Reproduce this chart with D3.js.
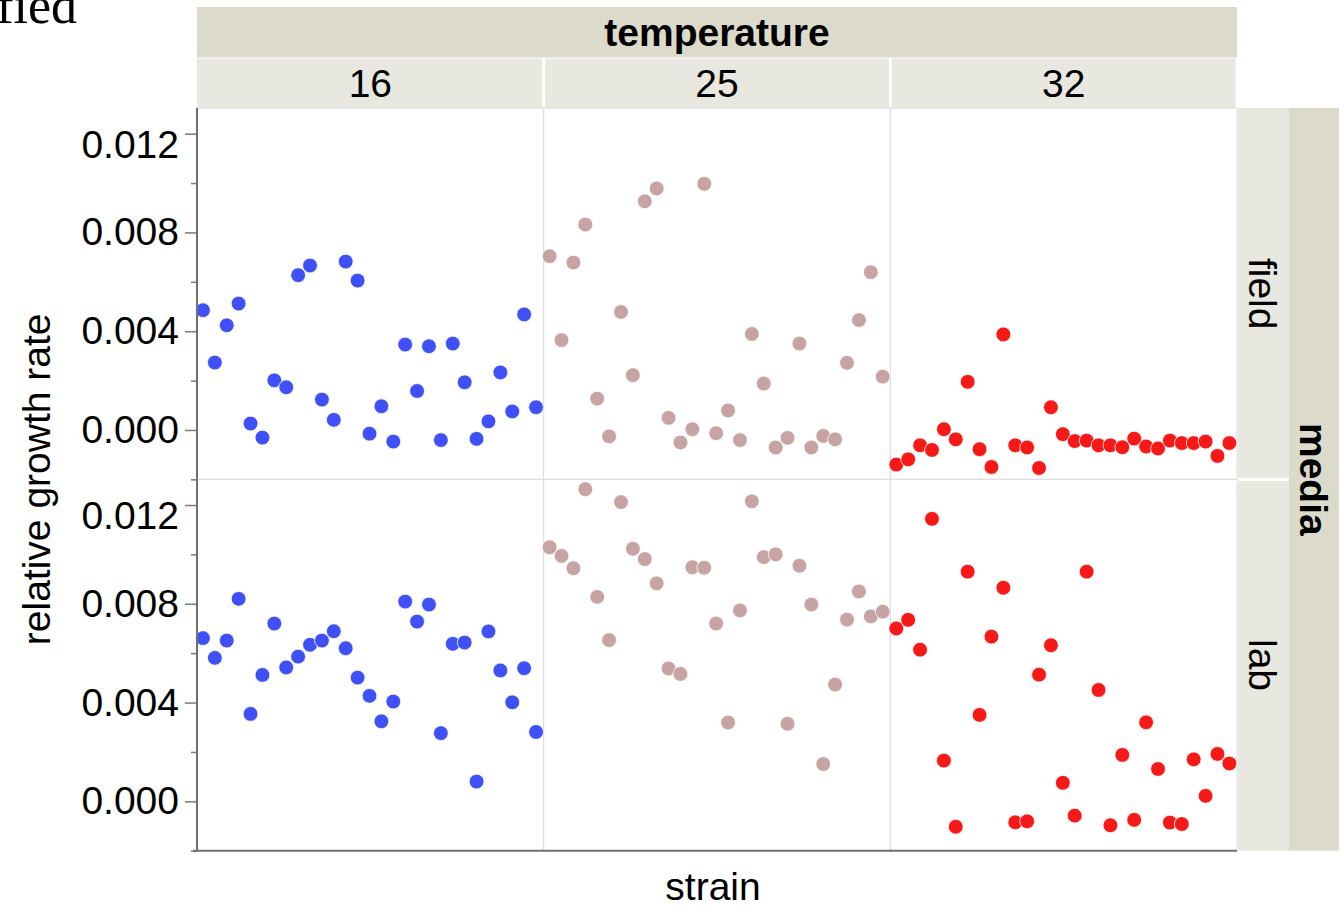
<!DOCTYPE html>
<html>
<head>
<meta charset="utf-8">
<script src="https://cdn.jsdelivr.net/npm/d3@7"></script>
<style>
  html, body { margin: 0; padding: 0; background: #ffffff; }
  svg { display: block; }
  text { font-family: "Liberation Sans", Arial, Helvetica, sans-serif; fill: #000; }
</style>
</head>
<body>
<svg id="chart" width="1339" height="909"></svg>
<script>
// Relative growth rate of each strain, split by temperature (columns) and media (rows)
const temperatures = ["16", "25", "32"];
const media = ["field", "lab"];
const strains = ["A01","A02","A03","A04","A05","A06","A07","A08","A09","A10",
                 "A11","A12","A13","A14","A15","A16","A17","A18","A19","A20",
                 "A21","A22","A23","A24","A25","A26","A27","A28","A29"];

const field16 = [0.00485,0.00273,0.00424,0.00512,0.00026,-0.00031,0.00201,0.00173,0.00627,0.00666,
                 0.00123,0.00041,0.00682,0.00605,-0.00015,0.00096,-0.00047,0.00346,0.00158,0.00339,
                 -0.00041,0.00350,0.00193,-0.00036,0.00035,0.00233,0.00075,0.00468,0.00092];
const field25 = [0.00704,0.00364,0.00678,0.00832,0.00127,-0.00026,0.00478,0.00222,0.00926,0.00978,
                 0.00049,-0.00051,0.00003,0.00997,-0.00013,0.00079,-0.00041,0.00389,0.00188,-0.00071,
                 -0.00032,0.00350,-0.00071,-0.00024,-0.00038,0.00272,0.00445,0.00639,0.00216];
const field32 = [-0.00140,-0.00119,-0.00062,-0.00081,0.00003,-0.00038,0.00195,-0.00078,-0.00150,0.00387,
                 -0.00062,-0.00071,-0.00154,0.00092,-0.00017,-0.00045,-0.00043,-0.00062,-0.00062,-0.00070,
                 -0.00035,-0.00067,-0.00075,-0.00043,-0.00053,-0.00053,-0.00047,-0.00105,-0.00053];
const lab16 = [0.00661,0.00581,0.00651,0.00820,0.00354,0.00512,0.00720,0.00542,0.00586,0.00634,
               0.00651,0.00689,0.00620,0.00501,0.00427,0.00324,0.00404,0.00809,0.00728,0.00797,
               0.00276,0.00638,0.00643,0.00080,0.00688,0.00530,0.00401,0.00539,0.00281];
const lab25 = [0.01029,0.00994,0.00944,0.01264,0.00828,0.00653,0.01212,0.01023,0.00981,0.00883,
               0.00538,0.00516,0.00948,0.00946,0.00720,0.00319,0.00773,0.01215,0.00989,0.01000,
               0.00314,0.00954,0.00797,0.00151,0.00473,0.00736,0.00850,0.00749,0.00768];
const lab32 = [0.00700,0.00735,0.00614,0.01144,0.00165,-0.00103,0.00930,0.00350,0.00667,0.00865,
               -0.00085,-0.00081,0.00513,0.00632,0.00075,-0.00058,0.00930,0.00451,-0.00097,0.00188,
               -0.00075,0.00320,0.00131,-0.00086,-0.00092,0.00170,0.00022,0.00192,0.00153];

const majorTicks = [0, 0.004, 0.008, 0.012];
const minorTicks = [-0.002, 0.002, 0.006, 0.010];
const tempColors = ["#3e50f6", "#c8a3a3", "#f71818"];

const series = {
  field: [field16, field25, field32],
  lab:   [lab16, lab25, lab32]
};

// ---- layout ----
const W = 1339, H = 909;
const plotL = 197, plotR = 1237;
const plotT = 108, plotB = 850.7;
const rowH = (plotB - plotT) / media.length;
const colW = (plotR - plotL) / temperatures.length;
const stripTop = 7, stripMid = 57.5;
const stripR1 = 1289;
const FS = 39;

const svg = d3.select("#chart");
svg.append("rect").attr("width", W).attr("height", H).attr("fill", "#fff");

// title fragment running off the top-left corner
svg.append("text")
  .attr("x", 77).attr("y", 23)
  .attr("text-anchor", "end")
  .style("font-family", "'Liberation Serif', 'Times New Roman', serif")
  .style("font-size", "52px")
  .text("ified");

// column (temperature) scale and row (media) scale
const colX = d3.scaleBand().domain(temperatures).range([plotL, plotR]).padding(0);
const rowY = d3.scaleBand().domain(media).range([plotT, plotB]).padding(0);
const yDomain = [-0.002, 0.01304];

// ---- top strips ----
svg.append("rect").attr("x", plotL).attr("y", stripTop)
  .attr("width", plotR - plotL).attr("height", stripMid - stripTop)
  .attr("fill", "#dcdacb");
svg.append("text")
  .attr("x", (plotL + plotR) / 2).attr("y", (stripTop + stripMid) / 2)
  .attr("dy", "0.35em").attr("text-anchor", "middle")
  .style("font-size", FS + "px").style("font-weight", "bold")
  .text("temperature");

temperatures.forEach(t => {
  const x0 = colX(t);
  svg.append("rect").attr("x", x0 + (t === temperatures[0] ? 0 : 1.5)).attr("y", stripMid + 1)
    .attr("width", colW - (t === temperatures[0] ? 1.5 : 3)).attr("height", plotT - stripMid - 1)
    .attr("fill", "#e8e8e0");
  svg.append("text")
    .attr("x", x0 + colW / 2).attr("y", (stripMid + plotT) / 2 + 1)
    .attr("dy", "0.35em").attr("text-anchor", "middle")
    .style("font-size", FS + "px")
    .text(t);
});

// ---- right strips ----
svg.append("rect").attr("x", stripR1).attr("y", plotT)
  .attr("width", W - stripR1).attr("height", plotB - plotT)
  .attr("fill", "#dcdacb");
svg.append("text")
  .attr("transform", `translate(${(stripR1 + W) / 2},${(plotT + plotB) / 2}) rotate(90)`)
  .attr("dy", "0.35em").attr("text-anchor", "middle")
  .style("font-size", FS + "px").style("font-weight", "bold")
  .text("media");

media.forEach((m, i) => {
  const y0 = rowY(m);
  svg.append("rect").attr("x", plotR + 1).attr("y", y0 + (i === 0 ? 0 : 1.5))
    .attr("width", stripR1 - plotR - 1).attr("height", rowH - 1.5)
    .attr("fill", "#e8e8e0");
  svg.append("text")
    .attr("transform", `translate(${(plotR + stripR1) / 2},${y0 + rowH / 2}) rotate(90)`)
    .attr("dy", "0.35em").attr("text-anchor", "middle")
    .style("font-size", FS + "px")
    .text(m);
});

// ---- panels ----
media.forEach((m, ri) => {
  const y0 = rowY(m);
  const y = d3.scaleLinear().domain(yDomain).range([y0 + rowH, y0]);

  temperatures.forEach((t, ci) => {
    const x0 = colX(t);
    const g = svg.append("g");
    g.append("rect").attr("x", x0).attr("y", y0)
      .attr("width", colW).attr("height", rowH)
      .attr("fill", "#fff").attr("stroke", "#dadada").attr("stroke-width", 1);

    const x = d3.scalePoint().domain(strains).range([x0, x0 + 345]).padding(0.5);
    const vals = series[m][ci];
    g.selectAll("circle")
      .data(strains.map((s, k) => ({ strain: s, value: vals[k] })))
      .join("circle")
      .attr("cx", d => x(d.strain))
      .attr("cy", d => y(d.value))
      .attr("r", 7.4)
      .attr("fill", tempColors[ci])
      .attr("stroke", "#fff")
      .attr("stroke-width", 0.8);
  });

  // y axis for this row
  const axis = svg.append("g").attr("transform", `translate(${plotL},0)`);
  axis.call(d3.axisLeft(y).tickValues(majorTicks).tickSize(12).tickPadding(6)
      .tickFormat(d3.format(".3f")));
  axis.call(g => g.select(".domain").remove());
  axis.selectAll(".tick line").attr("stroke", "#7a7a7a").attr("stroke-width", 1.5);
  axis.selectAll(".tick text")
    .style("font-family", "'Liberation Sans', Arial, sans-serif")
    .style("font-size", FS + "px").attr("fill", "#000");
  // the uppermost label sits a little below its tick, clear of the strip edge
  axis.selectAll(".tick").filter(d => d === d3.max(majorTicks))
    .select("text").attr("y", 11);

  const minor = svg.append("g").attr("transform", `translate(${plotL},0)`);
  minor.call(d3.axisLeft(y).tickValues(minorTicks).tickSize(6).tickFormat(""));
  minor.call(g => g.select(".domain").remove());
  minor.selectAll(".tick line").attr("stroke", "#7a7a7a").attr("stroke-width", 1.5);
});

// axis lines
svg.append("line").attr("x1", plotL).attr("x2", plotL).attr("y1", plotT).attr("y2", plotB)
  .attr("stroke", "#707070").attr("stroke-width", 2);
svg.append("line").attr("x1", plotL - 4).attr("x2", plotR).attr("y1", plotB).attr("y2", plotB)
  .attr("stroke", "#707070").attr("stroke-width", 2);

// axis titles
svg.append("text")
  .attr("transform", `translate(36,${(plotT + plotB) / 2}) rotate(-90)`)
  .attr("dy", "0.35em").attr("text-anchor", "middle")
  .style("font-size", FS + "px")
  .text("relative growth rate");
svg.append("text")
  .attr("x", (plotL + plotR) / 2 - 4).attr("y", 886)
  .attr("dy", "0.35em").attr("text-anchor", "middle")
  .style("font-size", FS + "px")
  .text("strain");
</script>
</body>
</html>
